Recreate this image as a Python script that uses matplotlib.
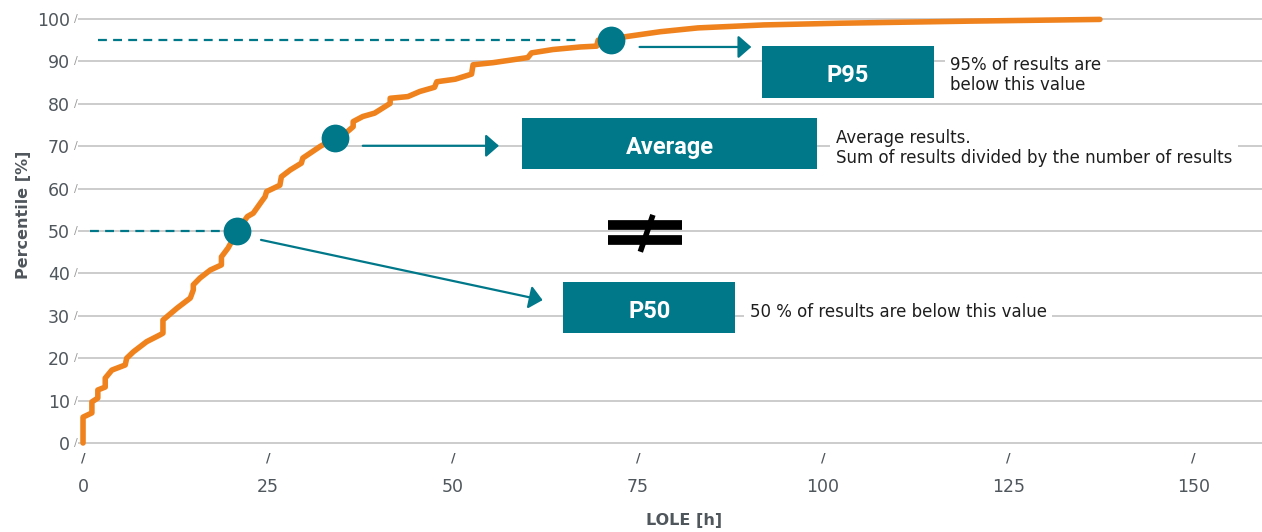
import matplotlib
matplotlib.use("Agg")
import matplotlib.pyplot as plt
from matplotlib.patches import Rectangle

# =====================================================
# DATA
# =====================================================

# cumulative LOLE curve (hours, percentile)
lole = [0, 0, 1.2, 1.2, 2.0, 2.0, 3.0, 3.0, 3.9, 5.7, 5.9, 6.8, 8.6, 10.4,
        10.8, 10.8, 12.7, 14.5, 14.9, 14.9, 15.8, 17.2, 18.7, 18.7, 19.6,
        20.8, 22.2, 23.0, 24.1, 24.6, 24.8, 26.6, 26.8, 28.0, 29.5, 29.7,
        32.0, 34.0, 35.7, 36.5, 36.5, 37.8, 39.4, 41.5, 41.5, 43.9, 45.5,
        47.5, 47.8, 50.3, 52.5, 52.7, 55.4, 60.1, 60.6, 63.5, 67.2, 69.4,
        69.6, 71.4, 73.2, 78.0, 83.1, 92.0, 102.2, 120.0, 137.4]
percentile = [0, 6.1, 7.1, 9.7, 10.6, 12.5, 13.2, 15.3, 17.2, 18.4, 20.0,
              21.5, 23.9, 25.5, 25.9, 29.0, 31.8, 34.2, 36.1, 37.3, 38.9,
              40.8, 42.0, 43.9, 46.0, 49.8, 53.4, 54.2, 56.9, 58.1, 59.3,
              60.8, 62.8, 64.4, 66.0, 67.2, 69.9, 71.9, 73.4, 74.6, 75.8,
              77.0, 77.8, 80.1, 81.3, 81.7, 82.9, 83.9, 85.2, 85.8, 87.0,
              89.2, 89.7, 90.9, 92.0, 92.8, 93.4, 93.6, 95.0, 95.2, 95.8,
              97.0, 97.9, 98.6, 99.0, 99.5, 99.9]

# highlighted points
p50 = (20.8, 50)
avg = (34.0, 72)
p95 = (71.4, 95)

x_ticks = [0, 25, 50, 75, 100, 125, 150]
y_ticks = [0, 10, 20, 30, 40, 50, 60, 70, 80, 90, 100]

# =====================================================
# STYLE
# =====================================================

ORANGE = "#F0821E"
TEAL = "#00788A"
GRID = "#C4C4C4"
TICK = "#4F565C"
TEXT = "#1E1E1E"

# =====================================================
# FIGURE
# =====================================================

fig = plt.figure(figsize=(12.62, 5.32), dpi=100)
ax = fig.add_axes([0.0618, 0.1598, 0.9382, 0.812])

ax.set_xlim(-0.68, 159.3)
ax.set_ylim(-0.94, 100.94)

for s in ax.spines.values():
    s.set_visible(False)

ax.set_yticks(y_ticks)
ax.set_xticks(x_ticks)
ax.tick_params(axis="both", length=0, colors=TICK, labelsize=12.5)
ax.tick_params(axis="y", pad=6)
ax.tick_params(axis="x", pad=22)

for yt in y_ticks:
    ax.axhline(yt, color=GRID, lw=1.2, zorder=0)
    ax.annotate("/", xy=(0, yt), xycoords=("axes fraction", "data"),
                xytext=(-1.5, 0), textcoords="offset points",
                ha="center", va="center", fontsize=8, color="#9A9A9A",
                annotation_clip=False)

for xt in x_ticks:
    ax.annotate("/", xy=(xt, 0), xycoords=("data", "axes fraction"),
                xytext=(0, -8), textcoords="offset points",
                ha="center", va="center", fontsize=9, color=TICK,
                fontweight="bold", annotation_clip=False)

fig.text(684 / 1262, 1 - 520 / 532, "LOLE [h]", ha="center", va="center",
         fontsize=11.5, fontweight="bold", color=TICK)
fig.text(24 / 1262, 1 - 215 / 532, "Percentile [%]", ha="center",
         va="center", rotation=90, fontsize=11.5, fontweight="bold",
         color=TICK)

# =====================================================
# CURVE
# =====================================================

ax.plot(lole, percentile, color=ORANGE, lw=4, solid_capstyle="round",
        solid_joinstyle="round", zorder=3)

# dashed guides
ax.plot([2.0, 66.8], [p95[1], p95[1]], color=TEAL, lw=1.6,
        ls=(0, (4, 2.8)), zorder=2)
ax.plot([0.95, p50[0]], [p50[1], p50[1]], color=TEAL, lw=1.6,
        ls=(0, (4, 2.8)), zorder=2)

for pt in (p50, avg, p95):
    ax.plot(pt[0], pt[1], "o", ms=20, color=TEAL, mec="none", zorder=5)

# =====================================================
# ARROWS
# =====================================================

arrow_kw = dict(arrowstyle="-|>,head_length=0.4,head_width=0.35",
                mutation_scale=20, color=TEAL, lw=1.6,
                shrinkA=0, shrinkB=0)

ax.annotate("", xy=(90.3, 93.4), xytext=(75.2, 93.4), arrowprops=arrow_kw)
ax.annotate("", xy=(56.2, 70.1), xytext=(37.8, 70.1), arrowprops=arrow_kw)
ax.annotate("", xy=(62.1, 33.7), xytext=(24.05, 47.9), arrowprops=arrow_kw)

# =====================================================
# BOXES + NOTES
# =====================================================

boxes = [
    ("P95", 91.7, 81.4, 23.3, 12.2),
    ("Average", 59.3, 64.6, 39.9, 12.0),
    ("P50", 64.9, 25.9, 23.2, 12.0),
]

for label, bx, by, bw, bh in boxes:
    ax.add_patch(Rectangle((bx, by), bw, bh, facecolor=TEAL,
                           edgecolor="none", zorder=4))
    ax.text(bx + bw / 2, by + bh / 2 - 0.8, label, ha="center",
            va="center", color="white", fontsize=17, fontweight="bold",
            family="Roboto", zorder=6)

note_kw = dict(ha="left", va="center", fontsize=12, color=TEXT,
               linespacing=1.1, zorder=4,
               bbox=dict(facecolor="white", edgecolor="none", pad=4))

ax.text(117.2, 86.8, "95% of results are\nbelow this value", **note_kw)
ax.text(101.7, 69.6, "Average results.\n"
        "Sum of results divided by the number of results", **note_kw)
ax.text(90.1, 31.0, "50 % of results are below this value", **note_kw)

# =====================================================
# NOT EQUAL SIGN
# =====================================================

ax.plot([70.9, 80.9], [51.4, 51.4], color="black", lw=7,
        solid_capstyle="butt", zorder=4)
ax.plot([70.9, 80.9], [47.9, 47.9], color="black", lw=7,
        solid_capstyle="butt", zorder=4)
ax.plot([77.0, 75.3], [53.8, 45.1], color="black", lw=4,
        solid_capstyle="butt", zorder=4)

fig.savefig("out.png", dpi=100)
plt.close()
